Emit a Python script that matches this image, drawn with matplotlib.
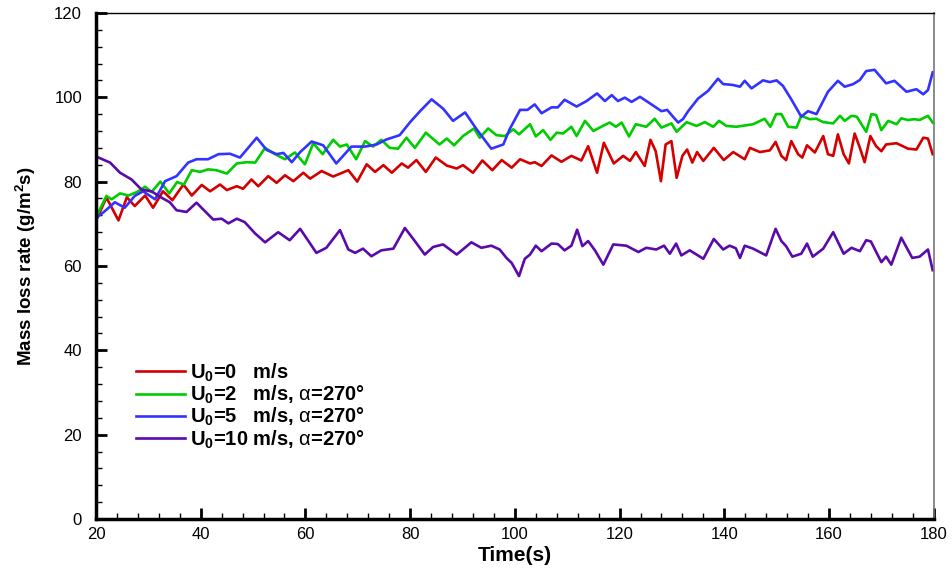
import matplotlib.pyplot as plt
from matplotlib.ticker import MultipleLocator
plt.switch_backend('Agg')

plt.rcParams['font.family'] = ['Liberation Sans', 'DejaVu Sans']
plt.rcParams['mathtext.fontset'] = 'custom'
plt.rcParams['mathtext.rm'] = 'Liberation Sans'
plt.rcParams['mathtext.bf'] = 'Liberation Sans:bold'
plt.rcParams['mathtext.it'] = 'Liberation Sans:italic'

# U0 = 0 m/s
t_u0 = [20.1, 22, 24.3, 25.9, 27.4, 29.4, 30.9, 32.8, 34.6, 36.7, 38.3, 40.2, 41.8, 43.7, 45, 46.9,
        48.1, 49.7, 51, 52.9, 54.5, 56.1, 57.7, 59.6, 60.9, 63.1, 65.3, 68.2, 69.9, 71.7, 73.3, 74.9,
        76.5, 78.4, 79.6, 81.2, 83, 84.9, 87, 88.9, 90.1, 92, 93.8, 95.7, 97.5, 99.4, 101, 102.9,
        103.8, 105.1, 107, 108.9, 110.8, 112.7, 114, 115.7, 117, 118.9, 120.7, 122, 123.1, 124.8,
        125.9, 126.9, 127.9, 128.8, 129.9, 130.9, 132, 132.9, 133.9, 134.8, 136, 138, 139.9, 141.7,
        143.9, 144.9, 146.8, 148.7, 149.8, 150.9, 151.8, 152.8, 154.1, 154.9, 155.8, 157.3, 158.9,
        159.8, 160.8, 161.7, 162.8, 163.8, 164.9, 165.9, 166.8, 167.9, 169.0, 170.0, 170.9, 172.9,
        175.1, 176.7, 178.0, 178.9, 179.8]
m_u0 = [71.0, 76.2, 70.8, 76.3, 74.2, 76.7, 73.8, 77.7, 75.6, 79.3, 76.7, 79.2, 77.7, 79.3, 78.0, 78.9,
        78.3, 80.5, 78.9, 81.3, 79.7, 81.5, 80.1, 82.1, 80.7, 82.5, 81.2, 82.7, 80.0, 84.1, 82.3, 83.9,
        82.1, 84.3, 83.3, 85.1, 82.3, 85.7, 83.8, 83.1, 83.9, 82.1, 85.0, 82.7, 85.1, 83.3, 85.3, 84.3,
        84.6, 83.7, 86.2, 84.7, 86.1, 85.0, 88.4, 82.1, 89.2, 84.3, 86.1, 84.9, 87.0, 83.7,
        89.9, 87.2, 80.1, 88.8, 89.6, 80.9, 86.1, 87.6, 84.5, 87.0, 84.9, 88.0, 85.1, 87.0,
        85.3, 88.0, 87.0, 87.4, 89.4, 86.1, 85.1, 89.6, 86.5, 85.7, 88.6, 86.9, 90.8,
        86.5, 86.1, 91.2, 86.5, 84.3, 91.4, 88.0, 84.6, 90.8, 88.4, 87.2, 88.8, 89.1,
        87.8, 87.6, 90.4, 90.2, 86.5]

# U0 = 2 m/s
t_u2 = [20.1, 22, 23, 24.6, 26.2, 27.8, 29.4, 30.6, 32.3, 34, 35.5, 36.8, 38.3, 39.9, 41.4, 43, 45,
        46.9, 48.8, 50.4, 52.3, 54.2, 56.1, 58, 59.9, 61.5, 63.3, 65.3, 66.6, 67.9, 69.7, 71.4, 72.9,
        74.5, 76.1, 77.7, 79.3, 80.9, 83, 85.6, 87, 88.4, 90.1, 92.2, 93.3, 94.9, 96.5, 98.1, 99.7,
        100.8, 102.9, 104, 105.4, 106.8, 108, 109.2, 110.8, 111.8, 113.4, 115, 116.5, 118.1, 119.3,
        120.4, 121.8, 123.1, 125.1, 126.7, 128, 129.9, 130.9, 132.8, 134.7, 136.3, 137.9, 139,
        140.4, 142.3, 145.5, 147.7, 148.8, 149.9, 150.9, 152.2, 153.8, 154.7, 156.3, 157.6, 158.9,
        160.8, 162.1, 163, 164.3, 165.3, 167.1, 168.1, 169.0, 170, 171.3, 172.9, 173.8, 175.1, 176.3,
        177.3, 178.9, 179.8]
m_u2 = [71.8, 76.6, 75.8, 77.2, 76.7, 77.5, 78.8, 77.5, 80.0, 77.2, 79.9, 79.3, 82.7, 82.3, 82.9, 82.7, 81.9,
        84.3, 84.6, 84.5, 88.0, 86.5, 85.3, 86.9, 84.1, 89.1, 86.5, 89.9, 88.3, 88.8, 85.3, 89.6, 88.3,
        89.9, 88.0, 87.8, 90.4, 88.0, 91.6, 88.8, 90.2, 88.6, 90.8, 92.6, 90.4, 92.6, 91.0, 90.8, 92.4,
        91.2, 93.6, 90.7, 92.2, 89.9, 91.6, 91.4, 93.0, 90.8, 94.4, 92.0, 93.0, 94.0, 93.0,
        94.0, 90.7, 93.6, 93.0, 94.9, 92.8, 93.8, 91.8, 94.1, 93.2, 94.1, 93.0, 94.4,
        93.2, 93.0, 93.6, 94.9, 93.0, 96.0, 96.0, 93.0, 92.8, 95.6, 94.8, 94.9, 94.1,
        93.8, 95.6, 94.4, 95.6, 95.4, 91.8, 96.0, 95.8, 92.2, 94.4, 93.6, 95.0, 94.6, 94.8,
        94.6, 95.6, 94.0]

# U0 = 5 m/s
t_u5 = [20.1, 21.7, 23.6, 25.5, 27.4, 29, 31.3, 33.2, 35.4, 37.6, 39.2, 41.4, 43.4, 45.6, 47.5,
        48.8, 50.7, 52.6, 54.5, 55.8, 57.4, 59, 61.2, 63.4, 65.9, 68.8, 71.4, 73.6, 75.5, 78, 80,
        81.9, 84.1, 86.3, 88.2, 90.5, 92.7, 95.5, 97.8, 99, 101, 102.4, 103.8, 105.1, 107, 108.2,
        109.5, 111.8, 113.7, 115.7, 117.2, 118.5, 119.7, 121, 122.3, 123.9, 126.1, 128, 129.1,
        130.2, 131.2, 132.1, 133.1, 135, 136.9, 138.8, 139.8, 140.1, 141.7, 143, 143.9, 145.2,
        147.4, 148.7, 150, 151.2, 152.8, 154.7, 156, 157.6, 159.8, 161.7, 163, 164.6, 165.9,
        167.1, 168.7, 170.9, 172.5, 174.8, 176.7, 178, 178.9, 179.8]
m_u5 = [71.4, 73.0, 75.1, 73.8, 76.6, 77.7, 75.8, 80.1, 81.3, 84.5, 85.3, 85.3, 86.5, 86.6, 85.7,
        87.6, 90.4, 87.5, 86.5, 86.8, 84.6, 87.0, 89.5, 88.6, 84.3, 88.3, 88.3, 88.8, 90.0, 91.0, 94.1,
        96.7, 99.5, 97.3, 94.4, 96.4, 92.4, 87.8, 88.8, 92.4, 97.0, 97.0, 98.3, 96.2, 97.6, 97.6,
        99.4, 97.8, 99.1, 100.9, 99.1, 100.5, 99.1, 99.9, 98.9, 100.1, 98.3, 96.7, 97.0,
        95.4, 94.0, 94.8, 96.7, 99.7, 101.5, 104.4, 103.1, 103.1, 102.9, 102.5, 103.9, 102.1,
        104.0, 103.6, 104.0, 102.7, 99.5, 95.4, 96.7, 96.0, 101.3, 103.9, 102.5, 103.1, 104.1,
        106.2, 106.5, 103.3, 103.9, 101.3, 101.9, 100.7, 101.7, 105.9]

# U0 = 10 m/s
t_u10 = [20.1, 22.7, 24.6, 26.8, 28.7, 30.6, 32.5, 34.1, 35.4, 37.3, 39.2, 40.8, 42.4, 44, 45.3,
         46.9, 48.4, 50.4, 52.3, 54.8, 57, 59, 62.1, 64, 66.6, 68.2, 69.5, 71, 72.6, 74.5, 76.8, 79,
         80.9, 82.8, 84.4, 86.3, 88.9, 91.7, 93.6, 95.5, 97.1, 98.4, 99.4, 100.8, 101.9, 102.9, 104,
         105.1, 107, 108.2, 109.5, 110.8, 111.9, 112.9, 114, 115.3, 116.9, 118.8, 121.3, 123.6,
         125.1, 127, 128.5, 129.6, 130.8, 131.8, 133.4, 136, 138, 139.8, 141, 142.2, 143, 143.9,
         145.5, 148, 149.8, 150.9, 151.8, 153, 154.7, 155.8, 156.9, 158.9, 160.8, 162.8, 164.3,
         165.9, 167.1, 168.0, 170, 170.9, 171.9, 173.8, 175.9, 177.3, 178.9, 179.8]
m_u10 = [85.9, 84.5, 82.1, 80.5, 78.1, 77.7, 76.2, 75.1, 73.2, 72.8, 75.0, 73.0, 71.0, 71.2, 70.1,
         71.2, 70.4, 67.7, 65.6, 68.0, 66.1, 68.8, 63.1, 64.3, 68.5, 63.9, 63.1, 64.1, 62.3, 63.7, 64.1, 69.0,
         65.9, 62.7, 64.5, 65.1, 62.7, 65.6, 64.3, 64.8, 63.9, 61.9, 60.7, 57.6, 61.7, 62.7, 64.8,
         63.5, 65.3, 65.2, 63.7, 64.8, 68.6, 64.7, 65.9, 63.7, 60.3, 65.1, 64.8, 63.3,
         64.3, 63.9, 64.8, 62.9, 65.3, 62.5, 63.7, 61.7, 66.4, 63.9, 64.8, 64.2, 61.9, 64.8,
         64.1, 62.5, 68.8, 65.9, 64.7, 62.2, 62.9, 65.3, 62.2, 64.1, 68.0, 62.9, 64.3,
         63.5, 66.1, 65.8, 60.9, 62.2, 60.3, 66.7, 61.9, 62.2, 63.9, 59.0]

labels = [r'U$_\mathbf{0}$=0   m/s',
          r'U$_\mathbf{0}$=2   m/s, $\mathrm{\alpha}$=270°',
          r'U$_\mathbf{0}$=5   m/s, $\mathrm{\alpha}$=270°',
          r'U$_\mathbf{0}$=10 m/s, $\mathrm{\alpha}$=270°']
colors = ['#d40000', '#00cc00', '#3333ff', '#5a0aaa']

fig = plt.figure(figsize=(9.52, 5.68), dpi=100)
ax = fig.add_axes([0.1008, 0.0863, 0.880, 0.891])

series = [(t_u0, m_u0), (t_u2, m_u2), (t_u5, m_u5), (t_u10, m_u10)]
for (t, m), lab, c in zip(series, labels, colors):
    ax.plot(t, m, color=c, lw=1.9, label=lab)

ax.set_xlim(20, 180)
ax.set_ylim(0, 120)
ax.xaxis.set_major_locator(MultipleLocator(20))
ax.xaxis.set_minor_locator(MultipleLocator(4))
ax.yaxis.set_major_locator(MultipleLocator(20))
ax.yaxis.set_minor_locator(MultipleLocator(4))
ax.tick_params(which='both', direction='in', labelsize=12, top=False, right=False)
ax.tick_params(which='major', length=8, width=2)
ax.tick_params(which='minor', length=4, width=1)
ax.tick_params(axis='y', pad=10)
ax.tick_params(axis='x', pad=6)

ax.spines['top'].set_linewidth(1.0)
ax.spines['right'].set_color('#777777')
ax.spines['right'].set_linewidth(1.2)
ax.spines['left'].set_linewidth(2.5)
ax.spines['bottom'].set_linewidth(2.5)

ax.set_xlabel('Time(s)', fontsize=15, fontweight='bold', labelpad=3)
ax.set_ylabel(r'Mass loss rate (g/m$^\mathbf{2}$s)', fontsize=13.5, fontweight='bold', labelpad=12)

# legend sits inside the axes, lower left, no frame
leg = ax.legend(loc='upper left', bbox_to_anchor=(0.038, 0.327), frameon=False,
                prop={'size': 14.5, 'weight': 'bold'}, handlelength=2.45,
                handletextpad=0.25, labelspacing=0.0, borderaxespad=0)

plt.savefig('out.png', dpi=100)
